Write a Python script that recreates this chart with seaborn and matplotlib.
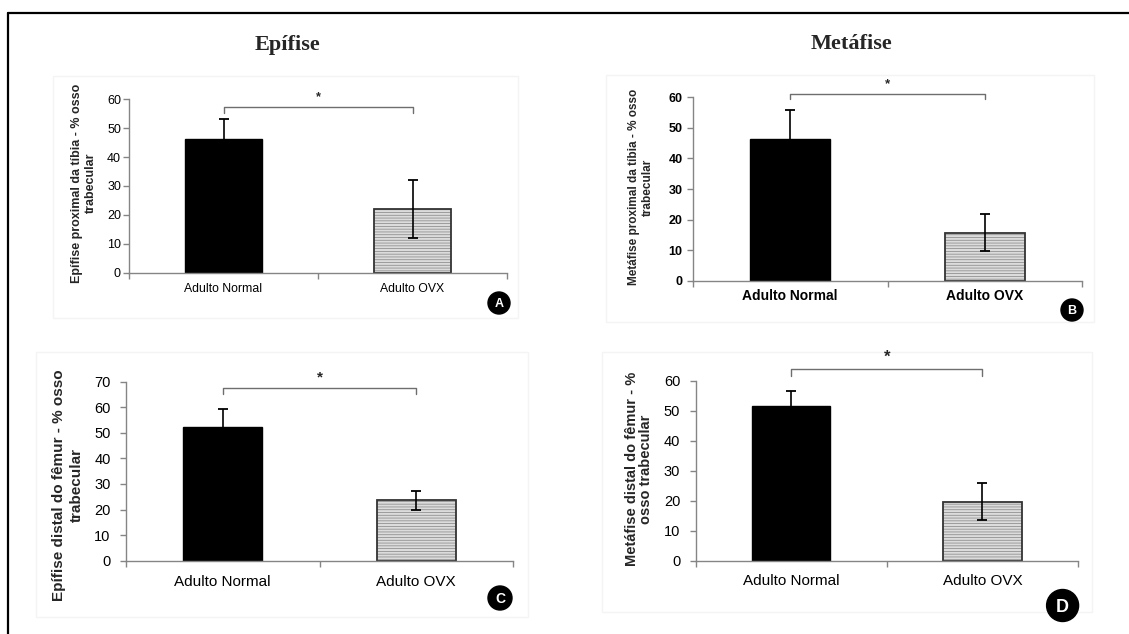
import matplotlib
matplotlib.use("Agg")
import matplotlib.pyplot as plt
import seaborn as sns
import pandas as pd
from matplotlib.patches import Rectangle, Ellipse
from matplotlib.lines import Line2D

# ---------------- data ----------------
groups = ["Adulto Normal", "Adulto OVX"]

a_mean = [46.3, 22.0]
a_err = [7.0, 10.0]
b_mean = [46.3, 15.7]
b_err = [9.5, 6.1]
c_mean = [52.2, 23.7]
c_err = [7.2, 3.7]
d_mean = [51.6, 19.6]
d_err = [5.0, 6.2]

col_titles = ["Epífise", "Metáfise"]
ylabels = [
    "Epífise proximal da tíbia - % osso\ntrabecular",
    "Metáfise proximal da tíbia - % osso\ntrabecular",
    "Epífise distal do fêmur - % osso\ntrabecular",
    "Metáfise distal do fêmur - %\nosso trabecular",
]
letters = ["A", "B", "C", "D"]
y_max = [60, 60, 70, 60]
sig_level = [57.4, 61.1, 67.4, 64.0]
sig_mark = "*"

# ---------------- style / layout ----------------
sns.set_style("white")
plt.rcParams["font.family"] = ["Liberation Sans", "DejaVu Sans"]
plt.rcParams["hatch.linewidth"] = 0.55

W, H = 1129, 634
fig = plt.figure(figsize=(W / 100, H / 100), dpi=100)
fig.patch.set_facecolor("white")


def fx(px):
    return px / W


def fy(py):
    return 1 - py / H


GRAY = "#858585"

panels = [
    dict(mean=a_mean, err=a_err, box=(129, 507, 99.3, 272.7), frame=(53, 518, 76, 318),
         tick_fs=9, tick_bold=False, tick_pad=1.8, x_fs=8.8, x_bold=False, x_pad=7.5,
         ylab_fs=9, ylab_ls=1.2, ylab_xy=(83.5, 183), star_fs=9, drop=6,
         circ=(499, 303, 11, 9)),
    dict(mean=b_mean, err=b_err, box=(693, 1082, 97.3, 280.7), frame=(606, 1094, 75, 322),
         tick_fs=9, tick_bold=True, tick_pad=3.4, x_fs=10, x_bold=True, x_pad=6,
         ylab_fs=8.5, ylab_ls=1.3, ylab_xy=(641, 187), star_fs=9.5, drop=5.5,
         circ=(1072, 310, 11, 9)),
    dict(mean=c_mean, err=c_err, box=(126, 513, 381.7, 560.7), frame=(36, 528, 352, 617),
         tick_fs=10.5, tick_bold=False, tick_pad=7, x_fs=11, x_bold=False, x_pad=10,
         ylab_fs=11, ylab_ls=1.3, ylab_xy=(68, 485), star_fs=11, drop=6,
         circ=(500, 598, 12, 10)),
    dict(mean=d_mean, err=d_err, box=(695.5, 1078, 381, 560.5), frame=(602, 1092, 352, 612),
         tick_fs=10.5, tick_bold=False, tick_pad=7, x_fs=11, x_bold=False, x_pad=10,
         ylab_fs=10.5, ylab_ls=1.08, ylab_xy=(639, 469), star_fs=12, drop=7,
         circ=(1062.6, 605.5, 16, 13)),
]

for i, p in enumerate(panels):
    # faint chart-area box
    fl, fr, ft, fb = p["frame"]
    fig.add_artist(Rectangle((fx(fl), fy(fb)), (fr - fl) / W, (fb - ft) / H,
                             transform=fig.transFigure, fill=False,
                             edgecolor="#f4f4f4", linewidth=1, zorder=0))

    l, r, t, b = p["box"]
    ax = fig.add_axes([fx(l), fy(b), (r - l) / W, (b - t) / H])
    ax.set_facecolor("none")
    df = pd.DataFrame({"grupo": groups, "valor": p["mean"]})
    sns.barplot(data=df, x="grupo", y="valor", hue="grupo",
                palette=["black", "#d9d9d9"], width=0.41, legend=False,
                ax=ax, errorbar=None, saturation=1, zorder=2)
    ax.set_xlim(-0.5, 1.5)
    ax.set_ylim(0, y_max[i])
    ax.set_yticks(range(0, y_max[i] + 1, 10))
    ax.set_xlabel("")
    ax.set_ylabel("")

    bars = sorted(ax.patches, key=lambda pt: pt.get_x())
    centers = [bp.get_x() + bp.get_width() / 2 for bp in bars]

    # black bar
    bars[0].set_edgecolor("black")
    bars[0].set_linewidth(1.0)
    # hatched bar: grey horizontal lines + dark outline
    hb = bars[1]
    hb.set_facecolor("#dcdcdc")
    hb.set_edgecolor("#8a8a8a")
    hb.set_linewidth(0)
    hb.set_hatch("------")
    ax.add_patch(Rectangle((hb.get_x(), hb.get_y()), hb.get_width(), hb.get_height(),
                           fill=False, edgecolor="#333333", linewidth=1.3, zorder=2.5))

    # error bars
    ax.errorbar(centers, p["mean"], yerr=p["err"], fmt="none", ecolor="black",
                elinewidth=1.2, capsize=3.3, capthick=1.3, zorder=4)

    # significance bracket
    y0 = sig_level[i]
    ypx = ax.transData.transform((0, y0))[1]
    y1 = ax.transData.inverted().transform((0, ypx - p["drop"]))[1]
    ax.add_line(Line2D([centers[0], centers[0], centers[1], centers[1]],
                       [y1, y0, y0, y1], color="#6e6e6e", linewidth=1.0,
                       clip_on=False, zorder=3))
    ax.annotate(sig_mark, xy=((centers[0] + centers[1]) / 2, y0),
                xytext=(0, 1.5 + p["star_fs"] * 0.12), textcoords="offset points",
                ha="center", va="bottom", fontsize=p["star_fs"], fontweight="bold",
                annotation_clip=False)

    # spines and ticks
    sns.despine(ax=ax, top=True, right=True)
    for s in ("left", "bottom"):
        ax.spines[s].set_color(GRAY)
        ax.spines[s].set_linewidth(1.0)
    ax.tick_params(axis="y", which="major", left=True, length=4, width=1,
                   color=GRAY, pad=p["tick_pad"], labelsize=p["tick_fs"],
                   labelcolor="black", direction="out")
    ax.set_xticks([-0.5, 0.5, 1.5], minor=True)
    ax.tick_params(axis="x", which="minor", bottom=True, length=4, width=1,
                   color=GRAY, direction="out")
    ax.tick_params(axis="x", which="major", length=0, pad=p["x_pad"],
                   labelsize=p["x_fs"], labelcolor="black")
    if p["tick_bold"]:
        for tl in ax.get_yticklabels():
            tl.set_fontweight("bold")
    if p["x_bold"]:
        for tl in ax.get_xticklabels():
            tl.set_fontweight("bold")
    ax.grid(False)

    # y label
    lx, ly = p["ylab_xy"]
    fig.text(fx(lx), fy(ly), ylabels[i], rotation=90, ha="center", va="center",
             rotation_mode="anchor", multialignment="center",
             fontsize=p["ylab_fs"], fontweight="bold", linespacing=p["ylab_ls"])

    # panel letter
    cx, cy, rr, lfs = p["circ"]
    fig.add_artist(Ellipse((fx(cx), fy(cy)), 2 * rr / W, 2 * rr / H,
                           transform=fig.transFigure, facecolor="black",
                           edgecolor="black", zorder=5))
    fig.text(fx(cx), fy(cy + 0.358 * lfs * 100 / 72), letters[i], ha="center",
             va="baseline", color="white", fontsize=lfs, fontweight="bold", zorder=6)

# column titles
fig.text(fx(287), fy(45), col_titles[0], ha="center", va="center",
         fontsize=16, fontweight="bold", family=["Liberation Serif", "DejaVu Serif"])
fig.text(fx(851), fy(44), col_titles[1], ha="center", va="center",
         fontsize=16, fontweight="bold", family=["Liberation Serif", "DejaVu Serif"])

# outer frame (top + left)
fig.add_artist(Line2D([fx(8), fx(8)], [fy(13), 0], transform=fig.transFigure,
                      color="black", linewidth=1.6))
fig.add_artist(Line2D([fx(8), 1], [fy(13), fy(13)], transform=fig.transFigure,
                      color="black", linewidth=1.6))

fig.savefig("out.png", dpi=100, facecolor="white")
